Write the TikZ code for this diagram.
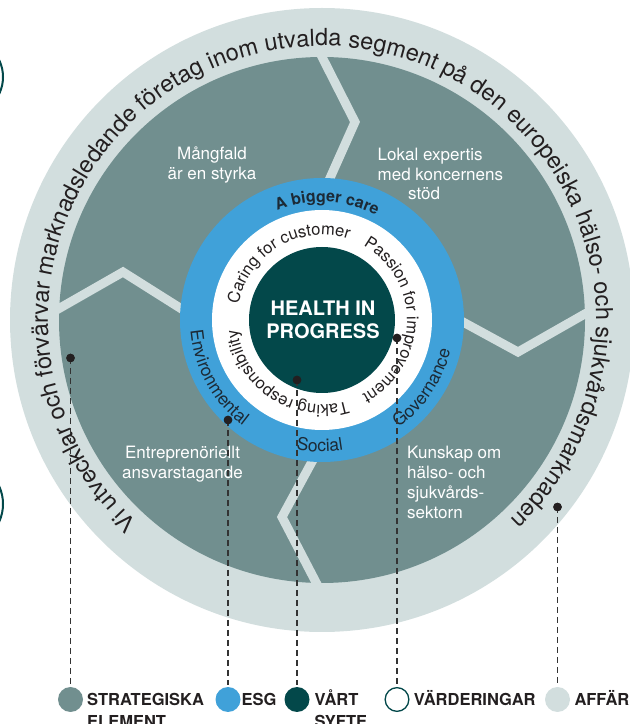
\documentclass[tikz,border=0pt]{standalone}
\usepackage{fontspec}
\setmainfont{TeX Gyre Heros}
\usetikzlibrary{decorations.text,calc}
\definecolor{outerc}{HTML}{D2DEDE}
\definecolor{midc}{HTML}{718F8F}
\definecolor{bluec}{HTML}{40A1D9}
\definecolor{darkc}{HTML}{03484A}
\definecolor{ink}{HTML}{231F20}
\definecolor{navy}{HTML}{1C2A36}
\definecolor{dashc}{HTML}{333333}
\begin{document}
\begin{tikzpicture}[x=1pt,y=1pt,
  zig/.style={draw=outerc, line width=9pt, miter limit=10},
  dot/.style={circle, fill=ink, inner sep=0pt, minimum size=8.5pt},
  legc/.style={circle, inner sep=0pt, minimum size=25pt},
  dashline/.style={draw=dashc, line width=1.3pt, dash pattern=on 6pt off 4pt},
  sectortext/.style={text=white, font=\fontsize{17}{20}\selectfont, inner sep=0pt},
  legtext/.style={text=ink, font=\bfseries\fontsize{16.5}{20}\selectfont, inner sep=0pt, anchor=base west},
  centertext/.style={text=white, font=\bfseries\fontsize{20}{22}\selectfont, inner sep=0pt, anchor=base},
]
\useasboundingbox (0,0) rectangle (630,724);
\coordinate (C) at (322,404);

% fragments at left edge
\draw[darkc, line width=2pt] (-36,647) circle[radius=39pt];
\draw[darkc, line width=2pt] (-40,220) circle[radius=43pt];

% rings
\fill[outerc] (C) circle[radius=312pt];
\fill[midc] (C) circle[radius=263pt];
\path[zig] (318.5,674) -- (355,602) -- (322,528);
\path[zig] (50,410.3) -- (123,452) -- (200,403.4);
\path[zig] (445,411.8) -- (518,372) -- (596,416.4);
\path[zig] (320,277) -- (282,207) -- (320.5,133);
\fill[bluec] (C) circle[radius=142pt];
\fill[white] (C) circle[radius=110pt];
\fill[darkc] (C) circle[radius=73pt];

% outer ring text
\path[decorate, decoration={text along path, text align=center, text color=ink,
  text={|\fontsize{23.5}{23.5}\selectfont|Vi utvecklar och förvärvar marknadsledande företag inom utvalda segment på den europeiska hälso- och sjukvårdsmarknaden}}]
  ($(C)+(241:274pt)$) arc[start angle=241, end angle=-60, radius=274pt];

% blue ring texts
\path[decorate, decoration={text along path, text align=center, text color=navy,
  text={|\bfseries\fontsize{16}{16}\selectfont|A bigger care}}]
  ($(C)+(140:118pt)$) arc[start angle=140, end angle=35, radius=118pt];
\path[decorate, decoration={text along path, text align=center, text color=navy,
  text={|\fontsize{17.5}{17.5}\selectfont|Environmental}}]
  ($(C)+(170:132pt)$) arc[start angle=170, end angle=248, radius=132pt];
\path[decorate, decoration={text along path, text align=center, text color=navy,
  text={|\fontsize{17.5}{17.5}\selectfont|Social}}]
  ($(C)+(250:132pt)$) arc[start angle=250, end angle=288, radius=132pt];
\path[decorate, decoration={text along path, text align=center, text color=navy,
  text={|\fontsize{17.5}{17.5}\selectfont|Governance}}]
  ($(C)+(300:132pt)$) arc[start angle=300, end angle=352, radius=132pt];

% white ring texts
\path[decorate, decoration={text along path, text align=center, text color=ink,
  text={|\fontsize{16.5}{16.5}\selectfont|Caring for customer}}]
  ($(C)+(180:85pt)$) arc[start angle=180, end angle=61, radius=85pt];
\path[decorate, decoration={text along path, text align=center, text color=ink,
  text={|\fontsize{16.5}{16.5}\selectfont|Passion for improvement}}]
  ($(C)+(75:85pt)$) arc[start angle=75, end angle=-76, radius=85pt];
\path[decorate, decoration={text along path, text align=center, text color=ink,
  text={|\fontsize{16.5}{16.5}\selectfont|Taking responsibility}}]
  ($(C)+(300:85pt)$) arc[start angle=300, end angle=174, radius=85pt];

% centre
\node[centertext] (hip1) at (323,408) {HEALTH IN};
\node[centertext] (hip2) at (323,385.7) {PROGRESS};

% sector texts
\node[sectortext, anchor=base] (s1a) at (212,564) {Mångfald};
\node[sectortext, anchor=base] (s1b) at (212,544.5) {är en styrka};
\node[sectortext, anchor=base west] (s2a) at (377.5,563.5) {Lokal expertis};
\node[sectortext, anchor=base west] (s2b) at (377.5,543.8) {med koncernens};
\node[sectortext, anchor=base west] (s2c) at (408,524) {stöd};
\node[sectortext, anchor=base] (s3a) at (182.5,265) {Entreprenöriellt};
\node[sectortext, anchor=base] (s3b) at (182.5,245.2) {ansvarstagande};
\node[sectortext, anchor=base west] (s4a) at (407,265) {Kunskap om};
\node[sectortext, anchor=base west] (s4b) at (407,245.3) {hälso- och};
\node[sectortext, anchor=base west] (s4c) at (407,225.6) {sjukvårds-};
\node[sectortext, anchor=base west] (s4d) at (407,205.9) {sektorn};

% legend circles
\node[legc, fill=midc] (l1) at (70.5,24.5) {};
\node[legc, fill=bluec] (l2) at (228,24.5) {};
\node[legc, fill=darkc] (l3) at (297,24.5) {};
\node[legc, fill=white, draw=darkc, line width=1.3pt, minimum size=23.7pt] (l4) at (397,24.5) {};
\node[legc, fill=outerc] (l5) at (557.5,24.5) {};

% dots
\node[dot] (d1) at (70.5,366) {};
\node[dot] (d2) at (228,304) {};
\node[dot] (d3) at (297,344) {};
\node[dot] (d4) at (397,386) {};
\node[dot] (d5) at (557.5,217) {};

% dashed connectors
\draw[dashline] (d1.center) -- ([yshift=2pt]l1.north);
\draw[dashline] (d2.center) -- ([yshift=2pt]l2.north);
\draw[dashline] (d3.center) -- ([yshift=2pt]l3.north);
\draw[dashline] (d4.center) -- ([yshift=2pt]l4.north);
\draw[dashline] (d5.center) -- ([yshift=2pt]l5.north);
\node[dot] at (d1) {};
\node[dot] at (d2) {};
\node[dot] at (d3) {};
\node[dot] at (d4) {};
\node[dot] at (d5) {};

% legend texts
\node[legtext] (t1) at (87,19) {STRATEGISKA};
\node[legtext] (t1b) at (87,-3) {ELEMENT};
\node[legtext] (t2) at (241.5,19) {ESG};
\node[legtext] (t3) at (314.5,19) {VÅRT};
\node[legtext] (t3b) at (314.5,-3) {SYFTE};
\node[legtext] (t4) at (413.7,19) {VÄRDERINGAR};
\node[legtext] (t5) at (574.3,19) {AFFÄR};
\end{tikzpicture}
\end{document}
